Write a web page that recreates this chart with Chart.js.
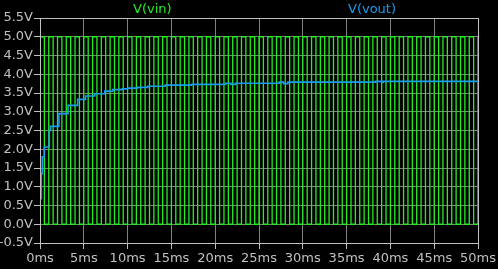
<!DOCTYPE html>
<html>
<head>
<meta charset="utf-8">
<script src="https://cdn.jsdelivr.net/npm/chart.js@4/dist/chart.umd.min.js"></script>
<style>
  html, body { margin: 0; padding: 0; background: #000; }
  #wrap { position: relative; width: 498px; height: 269px; background: #000; }
  canvas { position: absolute; left: 0; top: 0; }
  .lbl { position: absolute; top: 1px; font: 13px "DejaVu Sans", sans-serif; white-space: nowrap; }
</style>
</head>
<body>
<div id="wrap">
  <canvas id="c" width="498" height="269"></canvas>
  <div class="lbl" id="l1" style="left:133px;color:#22ee22">V(vin)</div>
  <div class="lbl" id="l2" style="left:348px;color:#1a9cf0">V(vout)</div>
</div>
<script>
// V(vin): square wave edge times (ms) and the level after each edge (V)
const vinTimes = [0, 0.5, 1, 1.5, 2, 2.5, 3, 3.5, 4, 4.5, 5, 5.5, 6, 6.5, 7, 7.5, 8, 8.5, 9, 9.5,
  10, 10.5, 11, 11.5, 12, 12.5, 13, 13.5, 14, 14.5, 15, 15.5, 16, 16.5, 17, 17.5, 18, 18.5, 19, 19.5,
  20, 20.5, 21, 21.5, 22, 22.5, 23, 23.5, 24, 24.5, 25, 25.5, 26, 26.5, 27, 27.5, 28, 28.5, 29, 29.5,
  30, 30.5, 31, 31.5, 32, 32.5, 33, 33.5, 34, 34.5, 35, 35.5, 36, 36.5, 37, 37.5, 38, 38.5, 39, 39.5,
  40, 40.5, 41, 41.5, 42, 42.5, 43, 43.5, 44, 44.5, 45, 45.5, 46, 46.5, 47, 47.5, 48, 48.5, 49, 49.5, 50];
const vinLevels = [5, 0, 5, 0, 5, 0, 5, 0, 5, 0, 5, 0, 5, 0, 5, 0, 5, 0, 5, 0,
  5, 0, 5, 0, 5, 0, 5, 0, 5, 0, 5, 0, 5, 0, 5, 0, 5, 0, 5, 0,
  5, 0, 5, 0, 5, 0, 5, 0, 5, 0, 5, 0, 5, 0, 5, 0, 5, 0, 5, 0,
  5, 0, 5, 0, 5, 0, 5, 0, 5, 0, 5, 0, 5, 0, 5, 0, 5, 0, 5, 0,
  5, 0, 5, 0, 5, 0, 5, 0, 5, 0, 5, 0, 5, 0, 5, 0, 5, 0, 5, 0, 5];

// V(vout): step times (ms) and values (V)
const voutTimes = [0, 0, 0.15, 0.26, 0.49, 1.06, 1.2, 2.16, 3.2, 4.3, 5.2, 6.25, 7.4, 8.3, 9.4, 10,
  11.1, 12.3, 14.3, 17.3, 21.2, 21.8, 22.3, 27.3, 27.8, 28.3, 38.3, 39.0, 39.2, 50];
const voutValues = [0, 0.68, 1.35, 1.8, 2.06, 2.5, 2.61, 2.95, 3.17, 3.33, 3.42, 3.48, 3.55, 3.59, 3.61, 3.63,
  3.65, 3.68, 3.71, 3.73, 3.76, 3.73, 3.76, 3.79, 3.75, 3.79, 3.81, 3.78, 3.81, 3.81];

const xTicks = [0, 5, 10, 15, 20, 25, 30, 35, 40, 45, 50];
const yTicks = [-0.5, 0, 0.5, 1, 1.5, 2, 2.5, 3, 3.5, 4, 4.5, 5, 5.5];

const vinData = vinTimes.map((t, i) => ({ x: t, y: vinLevels[i] }));
const voutData = voutTimes.map((t, i) => ({ x: t, y: voutValues[i] }));

const frame = {
  id: 'frame',
  afterDraw(chart) {
    const a = chart.chartArea, ctx = chart.ctx;
    ctx.save();
    ctx.strokeStyle = '#c0c0c0';
    ctx.lineWidth = 1;
    ctx.strokeRect(Math.round(a.left) + 0.5, Math.round(a.top) + 0.5,
      Math.round(a.right - a.left), Math.round(a.bottom - a.top));
    ctx.restore();
  }
};

const tickFont = { family: 'DejaVu Sans', size: 13 };

new Chart(document.getElementById('c'), {
  type: 'line',
  data: {
    datasets: [
      { label: 'V(vin)', data: vinData, borderColor: '#22ee22', borderWidth: 1.3, stepped: 'before',
        pointRadius: 0, fill: false, order: 1 },
      { label: 'V(vout)', data: voutData, borderColor: '#1a9cf0', borderWidth: 1.6, stepped: 'before',
        pointRadius: 0, fill: false, order: 0 }
    ]
  },
  options: {
    responsive: false,
    animation: false,
    events: [],
    layout: { padding: { top: 18, right: 18, left: 0, bottom: 0 } },
    plugins: { legend: { display: false }, tooltip: { enabled: false } },
    scales: {
      x: {
        type: 'linear', min: 0, max: 50,
        afterBuildTicks(s) { s.ticks = xTicks.map(v => ({ value: v })); },
        afterFit(s) { s.height = 26; },
        ticks: { color: '#c0c0c0', font: tickFont, padding: 2, maxRotation: 0,
          callback: v => v + 'ms' },
        grid: { color: '#808080', borderDash: [4, 4], tickLength: 6, tickColor: '#c0c0c0',
          tickBorderDash: [], lineWidth: 1 },
        border: { display: false }
      },
      y: {
        type: 'linear', min: -0.5, max: 5.5,
        afterBuildTicks(s) { s.ticks = yTicks.map(v => ({ value: v })); },
        afterFit(s) { s.width = 40; },
        ticks: { color: '#c0c0c0', font: tickFont, padding: 1,
          callback: v => v.toFixed(1) + 'V' },
        grid: { color: '#808080', borderDash: [4, 4], tickLength: 6, tickColor: '#c0c0c0',
          tickBorderDash: [], lineWidth: 1 },
        border: { display: false }
      }
    }
  },
  plugins: [frame]
});
</script>
</body>
</html>
